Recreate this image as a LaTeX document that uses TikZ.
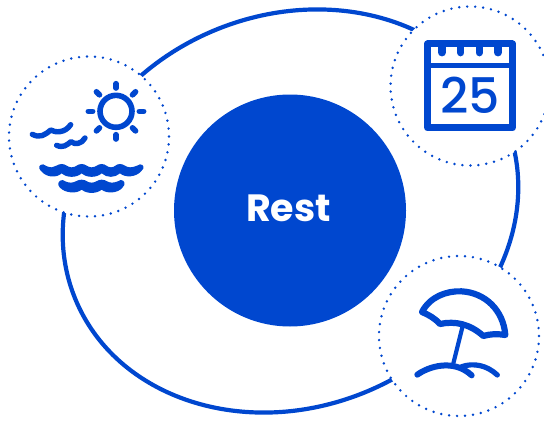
\documentclass[tikz,border=0pt]{standalone}
\usepackage{fontspec}
\setmainfont{Poppins}
\newfontfamily\restfont{Poppins}
\newfontfamily\dayfont{Poppins Medium}
\definecolor{brandblue}{HTML}{0047CF}
\tikzset{
  bigring/.style={draw=brandblue,line width=4.2pt},
  dotring/.style={fill=white,draw=brandblue,line width=2.7pt,line cap=round,dash pattern=on 0pt off 7.98pt},
  icon/.style={draw=brandblue,line cap=round,line join=round,line width=5.6pt},
  sea/.style={fill=brandblue},
  zoomA/.style={x=0.33333pt,y=-0.33333pt,shift={(0pt,-50pt)}},
  zoomB/.style={x=0.33333pt,y=-0.33333pt,shift={(385pt,0pt)}},
  zoomC/.style={x=0.33333pt,y=-0.33333pt,shift={(375pt,-250pt)}},
}
\begin{document}
\begin{tikzpicture}[x=1pt,y=-1pt]
\useasboundingbox (0,0) rectangle (544,423);
\clip (0,0) rectangle (544,423);
\draw[bigring,rotate around={22:(290.5,211)}] (290.5,211) ellipse [x radius=232.5pt,y radius=196pt];
\node[circle,fill=brandblue,minimum size=232pt,inner sep=0pt] (hub) at (290,210.5) {};
\node[text=white,inner sep=0pt] (rest) at (288.5,208) {\restfont\bfseries\fontsize{38}{38}\selectfont Rest};
\path[dotring] (89,136.5) circle [radius=80pt];
\path[dotring] (470,86) circle [radius=79.5pt];
\path[dotring] (459,336) circle [radius=80pt];
% sun and sea
\begin{scope}[zoomA]
\draw[icon] (348,184) circle [radius=48];
\foreach \a in {0,45,...,315}{\draw[icon] (348,184) ++(\a:70) -- ++(\a:13);}
\draw[icon,line width=5.4pt] (97,253) .. controls (120,265) and (135,255) .. (152,240) .. controls (165,248) and (195,250) .. (212,224);
\draw[icon,line width=5.4pt] (170,286) .. controls (190,295) and (200,285) .. (213,275) .. controls (225,285) and (245,282) .. (255,264);
\fill[sea] plot[smooth,tension=.8] coordinates {(130,343) (155,352) (185,342) (215,352) (245,342) (275,352) (305,342) (333,352) (360,342) (390,352) (420,343)}
  .. controls (432,343) and (434,355) .. (425,362)
  .. controls (410,382) and (375,384) .. (360,370)
  .. controls (345,384) and (320,384) .. (305,370)
  .. controls (290,384) and (260,384) .. (245,370)
  .. controls (230,384) and (200,384) .. (185,370)
  .. controls (170,384) and (140,384) .. (122,362)
  .. controls (113,353) and (118,343) .. (130,343) -- cycle;
\fill[sea] plot[smooth,tension=.8] coordinates {(188,390) (213,398) (245,389) (275,398) (305,389) (335,398) (362,390)}
  .. controls (374,390) and (378,403) .. (368,412)
  .. controls (355,430) and (320,432) .. (305,419)
  .. controls (290,432) and (260,432) .. (245,419)
  .. controls (230,432) and (195,430) .. (179,412)
  .. controls (170,403) and (176,390) .. (188,390) -- cycle;
\end{scope}
% calendar
\begin{scope}[zoomB]
\draw[icon,line width=7pt,line join=round] (128,132) rectangle (382,384);
\draw[icon,line width=4.8pt,line cap=butt] (128,197) -- (382,197);
\foreach \x in {171,227,283,339}{\draw[icon,line width=7.4pt] (\x,140) -- (\x,158);}
\node[text=brandblue,inner sep=0pt] (day) at (255,287) {\dayfont\fontsize{49}{49}\selectfont 25};
\end{scope}
% umbrella
\begin{scope}[zoomC]
\draw[icon,line width=6.2pt] (141,186) .. controls (165,140) and (215,122) .. (260,124) .. controls (330,128) and (385,180) .. (391,255) .. controls (365,251) and (345,252) .. (325,258) .. controls (285,222) and (240,212) .. (195,222) .. controls (180,205) and (160,194) .. (141,186) -- cycle;
\draw[icon,line width=4.2pt,line cap=butt] (263,228) -- (235,340);
\draw[icon,line width=6pt] (127,374) .. controls (160,350) and (235,325) .. (290,376);
\draw[icon,line width=5.2pt] (260,350) .. controls (295,338) and (335,345) .. (367,375);
\end{scope}
\end{tikzpicture}
\end{document}
